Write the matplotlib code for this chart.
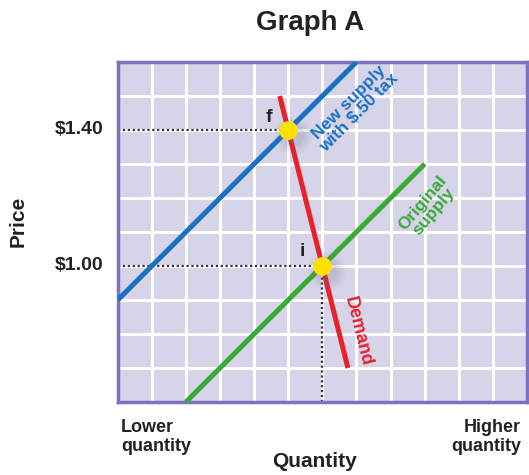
import matplotlib
matplotlib.use("Agg")
import matplotlib.pyplot as plt

plt.rcParams["font.family"] = ["Liberation Sans", "DejaVu Sans"]

# Axis extents (quantity units, price in dollars)
x_range = [0, 12]
y_range = [0.60, 1.60]

# Curves: endpoints in (quantity, price)
demand_q = [4.75, 6.75]
demand_p = [1.50, 0.70]
new_supply_q = [0, 7]
new_supply_p = [0.90, 1.60]
orig_supply_q = [2, 9]
orig_supply_p = [0.60, 1.30]

# Equilibrium points
eq_labels = ["f", "i"]
eq_q = [5, 6]
eq_p = [1.40, 1.00]
price_ticks = [1.40, 1.00]
price_tick_labels = ["$1.40", "$1.00"]

BG = "#d6d4e9"
BORDER = "#7d72c0"
RED = "#e8212b"
BLUE = "#1b70c2"
GREEN = "#3aa936"
YELLOW = "#ffe100"
TXT = "#222222"

fig = plt.figure(figsize=(5.29, 4.75), dpi=100)
ax = fig.add_axes([0.2225, 0.1537, 0.9962 - 0.2225, 0.8695 - 0.1537])
ax.set_facecolor(BG)
ax.set_xlim(*x_range)
ax.set_ylim(*y_range)

# White grid
for gx in range(1, 12):
    ax.axvline(gx, color="white", lw=2.2, zorder=1)
for k in range(1, 10):
    ax.axhline(0.6 + k * 0.1, color="white", lw=2.2, zorder=1)

for s in ax.spines.values():
    s.set_color(BORDER)
    s.set_linewidth(2.5)
ax.set_xticks([])
ax.set_yticks([])

# Dotted guides
for q, p in zip(eq_q, eq_p):
    ax.plot([0, q], [p, p], color="#333333", lw=1.6, ls=(0, (1, 1.2)), zorder=2)
ax.plot([eq_q[1], eq_q[1]], [y_range[0], eq_p[1]], color="#333333", lw=1.6,
        ls=(0, (1, 1.2)), zorder=2)

# Curves
ax.plot(new_supply_q, new_supply_p, color=BLUE, lw=3.6, solid_capstyle="butt", zorder=3)
ax.plot(orig_supply_q, orig_supply_p, color=GREEN, lw=3.6, solid_capstyle="butt", zorder=3)
ax.plot(demand_q, demand_p, color=RED, lw=3.6, solid_capstyle="butt", zorder=4)

# Equilibrium dots with a soft shadow
for q, p in zip(eq_q, eq_p):
    for r, a in [(28, 0.04), (24, 0.05), (20, 0.07), (16, 0.08)]:
        ax.plot(q + 0.13, p - 0.014, "o", ms=r, color="#6a6880", alpha=a,
                mec="none", zorder=5)
    ax.plot(q, p, "o", ms=13.5, color=YELLOW, mec="none", zorder=6)

ax.text(4.44, 1.438, eq_labels[0], fontsize=14, fontweight="bold",
        color=TXT, ha="center", va="center", zorder=7)
ax.text(5.40, 1.044, eq_labels[1], fontsize=14, fontweight="bold",
        color=TXT, ha="center", va="center", zorder=7)

# Curve labels
ax.text(6.92, 1.465, "New supply\nwith $.50 tax", color=BLUE, fontsize=12.5,
        fontweight="bold", rotation=45, ha="center", va="center",
        linespacing=0.95, zorder=7)
ax.text(9.10, 1.173, "Original\nsupply", color=GREEN, fontsize=12.5,
        fontweight="bold", rotation=50, ha="center", va="center",
        linespacing=0.95, zorder=7)
ax.text(7.05, 0.809, "Demand", color=RED, fontsize=13, fontweight="bold",
        rotation=-76, ha="center", va="center", zorder=7)

# Price tick labels
for p, lab in zip(price_ticks, price_tick_labels):
    ax.text(-0.42, p, lab, fontsize=14, fontweight="bold", color=TXT,
            ha="right", va="center", clip_on=False)

# Titles and axis annotations
fig.text(0.586, 0.952, "Graph A", fontsize=20, fontweight="bold", color=TXT,
         ha="center", va="center")
fig.text(0.035, 0.533, "Price", fontsize=15, fontweight="bold", color=TXT,
         rotation=90, ha="center", va="center")
fig.text(0.595, 0.028, "Quantity", fontsize=15, fontweight="bold", color=TXT,
         ha="center", va="center")
fig.text(0.229, 0.080, "Lower\nquantity", fontsize=13, fontweight="bold", color=TXT,
         ha="left", va="center", linespacing=1.2)
fig.text(0.985, 0.080, "Higher\nquantity", fontsize=13, fontweight="bold", color=TXT,
         ha="right", va="center", linespacing=1.2, multialignment="right")

fig.savefig("out.png", dpi=100)
